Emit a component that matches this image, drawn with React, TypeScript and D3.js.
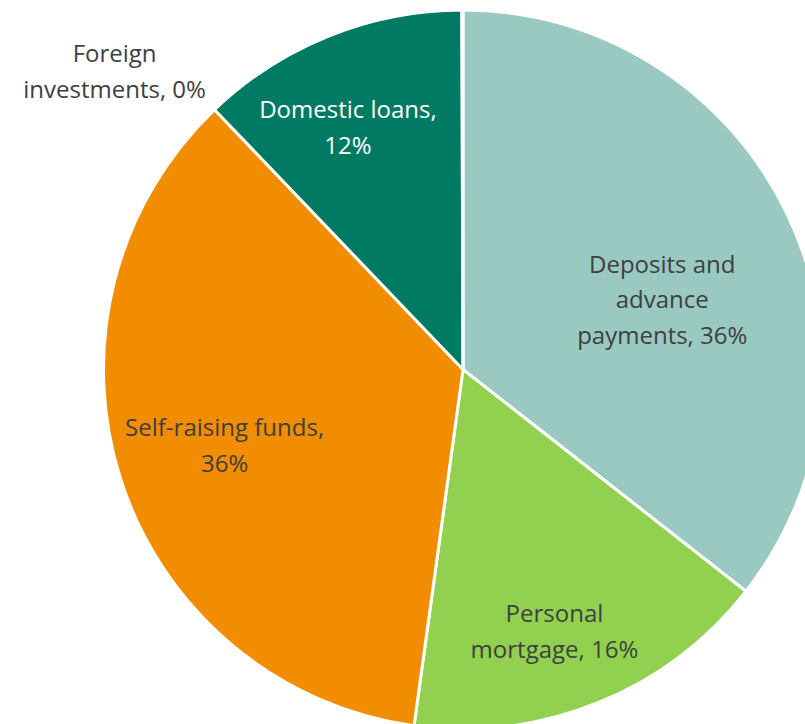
import React from "react";
import * as d3 from "d3";

const categories = [
  "Deposits and advance payments",
  "Personal mortgage",
  "Self-raising funds",
  "Domestic loans",
  "Foreign investments",
];
const values = [35.6, 16.6, 35.7, 12.1, 0.05];
const percentLabels = ["36%", "16%", "36%", "12%", "0%"];
const labelLines = [
  ["Deposits and", "advance", "payments, 36%"],
  ["Personal", "mortgage, 16%"],
  ["Self-raising funds,", "36%"],
  ["Domestic loans,", "12%"],
  ["Foreign", "investments, 0%"],
];
const colors = ["#99C9C0", "#92D050", "#F28C00", "#007A62", "#3E6E9E"];
const labelColors = ["#404040", "#404040", "#404040", "#FFFFFF", "#404040"];
const nudges: [number, number][] = [
  [-27, 39],
  [-3, 27],
  [1, -3],
  [-21, -10],
  [-348, -48],
];

export default function App() {
  const W = 805;
  const H = 724;
  const cx = 463;
  const cy = 369.5;
  const R = 359.5;
  const data = categories.map((c, i) => ({ c, v: values[i], i }));
  const pie = d3
    .pie<any>()
    .sort(null)
    .value((d) => d.v)
    .startAngle(0)
    .endAngle(2 * Math.PI);
  const arcs = pie(data);
  const arc = d3.arc<any>().innerRadius(0).outerRadius(R);
  const labelArc = d3.arc<any>().innerRadius(R * 0.7).outerRadius(R * 0.7);
  const fontSize = 24;
  const lineH = 35.5;
  return (
    <svg
      width={W}
      height={H}
      style={{ position: "absolute", left: 0, top: 0, background: "#fff" }}
    >
      <g transform={`translate(${cx},${cy})`}>
        {arcs.map((a, i) => (
          <path
            key={i}
            d={arc(a) || ""}
            fill={colors[i]}
            stroke="#fff"
            strokeWidth={3}
          />
        ))}
        {arcs.map((a, i) => {
          const [x, y] = labelArc.centroid(a);
          const lx = x + nudges[i][0];
          const ly = y + nudges[i][1];
          const lines = labelLines[i];
          const y0 = ly - ((lines.length - 1) * lineH) / 2;
          return (
            <text
              key={"t" + i}
              x={lx}
              y={y0}
              textAnchor="middle"
              dominantBaseline="central"
              fontFamily="'Open Sans', sans-serif"
              fontSize={fontSize}
              fill={labelColors[i]}
            >
              {lines.map((l, j) => (
                <tspan key={j} x={lx} y={y0 + j * lineH}>
                  {l}
                </tspan>
              ))}
            </text>
          );
        })}
      </g>
    </svg>
  );
}
